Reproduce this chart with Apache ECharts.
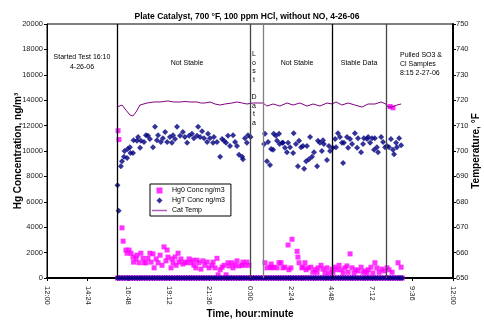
<!DOCTYPE html>
<html>
<head>
<meta charset="utf-8">
<script src="https://cdn.jsdelivr.net/npm/echarts@6.0.0/dist/echarts.min.js"></script>
<style>
html, body { margin: 0; padding: 0; background: #fff; }
#chart { width: 484px; height: 321px; }
</style>
</head>
<body>
<div id="chart"></div>
<script>
// time is minutes after 12:00 on 4-26-06
const xTicks = ['12:00', '14:24', '16:48', '19:12', '21:36', '0:00', '2:24', '4:48', '7:12', '9:36', '12:00']

// Hg0 Conc ng/m3
const hg0 = [
  [252, 11600], [255, 10900], [266, 3950], [270, 2900], [280, 2200], [284, 1950], [291, 2200], [298, 1950],
  [305, 1650], [307, 1250], [316, 1500], [319, 1800], [326, 1200], [333, 1950], [341, 1550], [344, 1200],
  [351, 1200], [358, 1550], [365, 1950], [369, 1250], [376, 1900], [380, 800], [387, 1500], [394, 1200],
  [401, 1800], [408, 1000], [415, 2450], [422, 1350], [426, 2200], [429, 1650], [440, 800], [443, 1500],
  [447, 1200], [454, 1650], [458, 1000], [465, 1950], [468, 1250], [475, 1500], [482, 1100], [489, 1250],
  [497, 1200], [504, 1500], [511, 1200], [518, 1400], [521, 1000], [528, 800], [532, 1400], [539, 1200],
  [546, 700], [553, 1350], [560, 1000], [568, 1250], [575, 800], [585, 1000], [589, 1250], [596, 800],
  [603, 1550], [607, 250], [614, 650], [621, 850], [628, 1000], [635, 250], [642, 1200], [646, 950],
  [656, 1200], [660, 800], [667, 1000], [674, 1350], [681, 950], [692, 1000], [695, 1250], [702, 1000],
  [709, 1250], [716, 1000],
  [773, 1200], [780, 800], [791, 850], [795, 1100], [798, 800], [805, 850], [816, 800], [823, 1200],
  [830, 1200], [837, 800], [844, 850], [855, 2600], [858, 650], [865, 800], [869, 3050], [887, 2100],
  [890, 1650], [894, 1200], [904, 800], [908, 850], [915, 1200], [919, 650], [926, 800], [936, 850],
  [943, 450], [951, 650], [958, 450], [961, 800], [972, 1000], [979, 700], [986, 400], [993, 800],
  [1000, 400], [1011, 700], [1014, 450], [1022, 850], [1029, 650], [1036, 1000], [1043, 650], [1050, 400],
  [1057, 800], [1064, 950], [1068, 450], [1075, 1900], [1082, 800], [1089, 400], [1096, 650], [1103, 550],
  [1114, 850], [1121, 450], [1128, 550], [1135, 400], [1139, 650], [1149, 850], [1156, 400], [1163, 1200],
  [1170, 800], [1178, 450], [1188, 700], [1195, 550], [1206, 800], [1213, 650], [1217, 13500], [1224, 450],
  [1227, 13400], [1245, 1200], [1256, 850]
]

// HgT Conc ng/m3
const hgT = [
  [250, 7300], [254, 5300], [262, 8800], [266, 9200], [273, 9550], [275, 10000], [284, 9450], [286, 10150],
  [294, 10300], [296, 9850], [305, 9850], [307, 10850], [319, 10800], [323, 11100], [330, 10250], [333, 10800],
  [344, 10700], [351, 11250], [358, 11200], [365, 10950], [376, 10300], [383, 11900], [390, 10850], [394, 11250],
  [404, 10700], [411, 11000], [419, 11500], [426, 10700], [436, 11100], [443, 10650], [447, 11250], [454, 10950],
  [461, 11900], [472, 11200], [482, 11500], [489, 11100], [497, 10650], [504, 11200], [514, 11350], [521, 11000],
  [532, 11200], [536, 11900], [543, 11100], [550, 11550], [557, 11000], [568, 10700], [571, 11350], [578, 11000],
  [589, 10650], [592, 11100], [603, 10700], [614, 9550], [621, 10950], [628, 10800], [635, 10650], [642, 11200],
  [649, 10400], [660, 11250], [667, 10700], [674, 10400], [681, 9700], [692, 9550], [695, 9350], [702, 11000],
  [709, 10650], [713, 11250], [722, 11100],
  [770, 10550], [773, 11350], [780, 9200], [784, 10700], [791, 8900], [795, 10150], [802, 10100], [804, 11350],
  [812, 11200], [816, 10800], [823, 11350], [825, 10550], [834, 10650], [837, 10650], [844, 10250], [851, 9900],
  [855, 10650], [862, 10300], [873, 9850], [875, 11400], [883, 10550], [890, 8800], [894, 10800], [901, 10300],
  [908, 10400], [912, 8600], [919, 9200], [922, 10400], [929, 9350], [933, 11100], [940, 9550], [947, 9900],
  [958, 8800], [961, 10800], [968, 10650], [975, 10000], [979, 10850], [982, 10550], [993, 9300], [1000, 10400],
  [1004, 10000], [1014, 10250], [1022, 10950], [1025, 10300], [1032, 11400], [1039, 11100], [1046, 10650], [1050, 9050],
  [1053, 10650], [1064, 11100], [1068, 10250], [1075, 10950], [1082, 10550], [1092, 11400], [1100, 10250], [1103, 11000],
  [1114, 9900], [1121, 10550], [1124, 11000], [1135, 10950], [1139, 11100], [1146, 10650], [1153, 11000], [1160, 10100],
  [1163, 11000], [1170, 10300], [1174, 9900], [1185, 11100], [1192, 10700], [1199, 10300], [1206, 10400], [1213, 10300],
  [1220, 10950], [1227, 10100], [1231, 9750], [1238, 10650], [1241, 10300], [1249, 11000], [1256, 10450]
]

// times where both analyzers logged zero
const zeroMin = [
  250, 258, 267, 276, 285, 293, 302, 311, 320, 329, 337, 346, 355, 364, 373, 381, 390, 399, 408, 417,
  425, 434, 443, 452, 461, 469, 478, 487, 496, 505, 513, 522, 531, 540, 549, 557, 566, 575, 584, 593,
  601, 610, 619, 628, 637, 645, 654, 663, 672, 681, 689, 698, 707, 716, 725, 733, 742, 751, 760, 769,
  777, 786, 795, 804, 813, 821, 830, 839, 848, 857, 865, 874, 883, 892, 901, 909, 918, 927, 936, 945,
  953, 962, 971, 980, 989, 997, 1006, 1015, 1024, 1033, 1041, 1050, 1059, 1068, 1077, 1085, 1094, 1103,
  1112, 1121, 1129, 1138, 1147, 1156, 1165, 1173, 1182, 1191, 1200, 1209, 1217, 1226, 1235, 1244, 1252, 1260
]

// Cat Temp, F
const catTemp = [
  [248, 717.3], [266, 718.1], [280, 716.1], [294, 714.2], [305, 713.8], [316, 715.4], [330, 718.1], [355, 718.9],
  [380, 719.3], [401, 719.3], [429, 719.7], [450, 719.3], [472, 719.3], [490, 719.5], [507, 719.3], [532, 719.3],
  [545, 718.9], [560, 718.9], [578, 719.3], [596, 718.5], [614, 718.1], [631, 718.5], [656, 718.9], [674, 719.3],
  [692, 718.9], [709, 718.5], [731, 718.9], [748, 718.9], [766, 718.9], [780, 717.7], [802, 718.5], [826, 717.7],
  [851, 718.9], [873, 718.1], [897, 718.9], [922, 717.7], [944, 718.5], [968, 717.7], [993, 718.9], [1011, 718.5],
  [1025, 719.3], [1046, 718.1], [1068, 718.9], [1092, 718.1], [1117, 717.3], [1139, 718.5], [1163, 718.5], [1185, 719.3],
  [1202, 718.5], [1210, 717.3], [1224, 717.3], [1241, 718.1], [1256, 718.5]
]

// event lines: test start, midnight, data back, stable start, samples pulled
const eventMin = [250, 720, 766, 1011, 1204]
const eventColor = ['#000', '#444', '#808080', '#000', '#444']

const font = 'Liberation Sans, Arial, sans-serif'
const chart = echarts.init(document.getElementById('chart'))

const txt = (x, y, text, extra) => ({
  type: 'text', x: x, y: y, silent: true,
  style: Object.assign({ text: text, fontFamily: font, fontSize: 7, fill: '#000', align: 'center', verticalAlign: 'top' }, extra)
})

chart.setOption({
  animation: false,
  textStyle: { fontFamily: font },
  grid: { left: 47, right: 31, top: 24, bottom: 43, outerBoundsMode: 'none', containLabel: false, show: true, borderColor: '#000', borderWidth: 1 },
  legend: {
    orient: 'vertical',
    left: 150, top: 184,
    padding: [3, 6, 2, 2],
    itemWidth: 15, itemHeight: 6, itemGap: 3,
    backgroundColor: '#fff', borderColor: '#000', borderWidth: 1,
    textStyle: { fontSize: 7, color: '#000', fontFamily: font },
    data: [
      { name: 'Hg0 Conc ng/m3', icon: 'path://M0,0H10V10H0Z' },
      { name: 'HgT Conc ng/m3', icon: 'path://M5,0L10,5L5,10L0,5Z' },
      { name: 'Cat Temp', icon: 'path://M0,0H20V2H0Z', itemStyle: { color: '#b060b0' } }
    ]
  },
  xAxis: {
    type: 'value', min: 0, max: 1440, interval: 144,
    name: 'Time, hour:minute', nameLocation: 'middle', nameGap: 31, nameMoveOverlap: false,
    nameTextStyle: { fontSize: 10, fontWeight: 'bold', color: '#000' },
    axisLine: { lineStyle: { color: '#000', width: 2 } },
    axisTick: { length: 3, lineStyle: { color: '#000' } },
    axisLabel: { rotate: -90, fontSize: 7.5, color: '#222', margin: 8, formatter: v => xTicks[Math.round(v / 144)] },
    splitLine: { show: false }
  },
  yAxis: [
    {
      type: 'value', min: 0, max: 20000, interval: 2000,
      name: 'Hg Concentration, ng/m\u00b3', nameLocation: 'middle', nameGap: 24, nameMoveOverlap: false,
      nameTextStyle: { fontSize: 10, fontWeight: 'bold', color: '#000' },
      axisLine: { show: true, lineStyle: { color: '#000', width: 1 } },
      axisTick: { show: true, length: 3, lineStyle: { color: '#000' } },
      axisLabel: { fontSize: 7.5, color: '#222', margin: 4, formatter: v => String(v) },
      splitLine: { show: false }
    },
    {
      type: 'value', position: 'right', min: 650, max: 750, interval: 10,
      name: 'Temperature, \u00b0F', nameLocation: 'middle', nameGap: 18, nameMoveOverlap: false,
      nameTextStyle: { fontSize: 10, fontWeight: 'bold', color: '#000' },
      axisLine: { show: true, lineStyle: { color: '#000', width: 2 } },
      axisTick: { show: true, length: 3, lineStyle: { color: '#000' } },
      axisLabel: { fontSize: 7.5, color: '#222', margin: 3, formatter: v => String(v) },
      splitLine: { show: false }
    }
  ],
  series: [
    {
      name: 'Hg0 Conc ng/m3', type: 'scatter', symbol: 'rect', symbolSize: 5,
      itemStyle: { color: '#ff00ff' },
      data: hg0.concat(zeroMin.map(t => [t, 0]))
    },
    {
      name: 'HgT Conc ng/m3', type: 'scatter', symbol: 'diamond', symbolSize: 6,
      itemStyle: { color: '#000080' },
      data: hgT.concat(zeroMin.map(t => [t, 0]))
    },
    {
      name: 'Cat Temp', type: 'line', yAxisIndex: 1, symbol: 'none',
      itemStyle: { color: '#800080' },
      lineStyle: { color: '#800080', width: 1 },
      data: catTemp,
      markLine: {
        silent: true, symbol: ['none', 'none'], label: { show: false },
        data: eventMin.map((t, i) => ({ xAxis: t, lineStyle: { color: eventColor[i], width: 1.3, type: 'solid' } }))
      }
    }
  ],
  graphic: [
    txt(247, 12, 'Plate Catalyst, 700 \u00b0F, 100 ppm HCl, without NO, 4-26-06', { fontSize: 8.5, fontWeight: 'bold' }),
    txt(82, 52, 'Started Test 16:10\n4-26-06', { lineHeight: 10 }),
    txt(187, 60, 'Not Stable'),
    txt(254, 50, 'L\no\ns\nt\n\nD\na\nt\na', { lineHeight: 8.6 }),
    txt(297, 60, 'Not Stable'),
    txt(359, 60, 'Stable Data'),
    txt(400, 51, 'Pulled SO3 &\nCl Samples\n8:15 2-27-06', { align: 'left', lineHeight: 9 })
  ]
})
</script>
</body>
</html>
